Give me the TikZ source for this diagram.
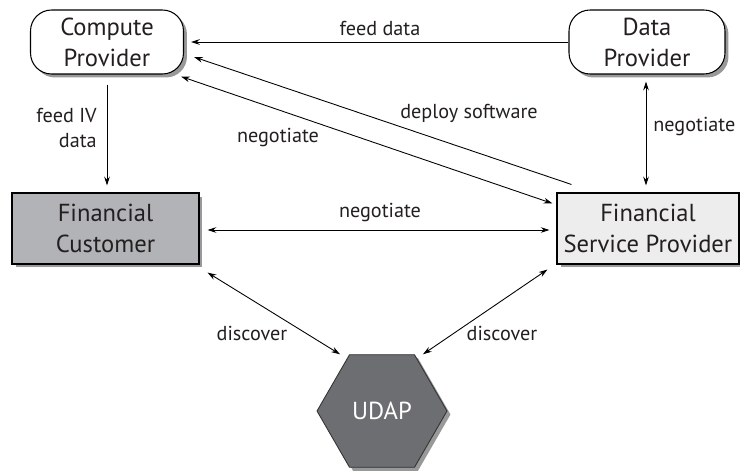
\documentclass[tikz,border=0pt]{standalone}
\usepackage{fontspec}
\setmainfont{PT Sans}
\usetikzlibrary{arrows.meta,shadows,shapes.geometric,calc}
\definecolor{txt}{HTML}{231F20}
\definecolor{fcgray}{HTML}{B1B3B6}
\definecolor{fspgray}{HTML}{EDEDED}
\definecolor{udapgray}{HTML}{6D6E71}
\tikzset{
  box/.style={draw=black, line width=0.6pt, align=center, text=txt, fill=white,
    inner sep=0pt, drop shadow={shadow xshift=0.07cm, shadow yshift=-0.07cm, opacity=0.4, fill=black}},
  rbox/.style={box, rounded corners=0.42cm},
  lbl/.style={font=\fontsize{11.5}{14.5}\selectfont, text=txt, inner sep=0pt},
  arr/.style={-{Stealth[length=5pt,width=3.2pt]}, line width=0.5pt},
  darr/.style={{Stealth[length=5pt,width=3.2pt]}-{Stealth[length=5pt,width=3.2pt]}, line width=0.5pt},
}
\begin{document}
\begin{tikzpicture}[x=0.02cm, y=-0.02cm, font=\fontsize{14}{17.6}\selectfont]
\useasboundingbox (0,0) rectangle (740,470);
\node[rbox, minimum width=3.06cm, minimum height=1.28cm] (cp) at (107,42) {Compute\\Provider};
\node[rbox, minimum width=3.12cm, minimum height=1.28cm] (dp) at (647,42) {Data\\Provider};
\node[box, fill=fcgray, minimum width=3.74cm, minimum height=1.42cm] (fc) at (105.5,228.5) {Financial\\Customer};
\node[box, fill=fspgray, minimum width=3.64cm, minimum height=1.42cm] (fsp) at (648,228.5) {Financial\\Service Provider};
\node[regular polygon, regular polygon sides=6, minimum size=2.6cm, inner sep=0pt,
  draw=black!80, line width=0.5pt, fill=udapgray, text=white,
  drop shadow={shadow xshift=0.07cm, shadow yshift=-0.07cm, opacity=0.4, fill=black}] (udap) at (382,411) {UDAP};

% connectors
\draw[arr] (dp.west) -- ($(cp.east)+(7,0)$);
\draw[arr] ($(fsp.north west)+(15,-8)$) -- ($(cp.east)+(10,15)$);
\draw[darr] ($(cp.south east)+(-3,2)$) -- ($(fsp.north west)+(-4,11)$);
\draw[arr] ($(cp.south)+(0,10)$) -- ($(cp.south|-fc.north)+(0,-7)$);
\draw[darr] ($(fc.east)+(8,1.5)$) -- ($(fsp.west)+(-7,1.5)$);
\draw[darr] ($(dp.south)+(-1,7)$) -- ($(dp.south|-fsp.north)+(-1,-7)$);
\draw[darr] ($(fc.south east)+(8,8)$) -- ($(udap.north)+(-42,0)$);
\draw[darr] ($(fsp.south west)+(-9,5)$) -- ($(udap.north)+(41,0)$);

% labels
\node[lbl] (l1) at (380,28) {feed data};
\node[lbl] (l2) at (469,113) {deploy software};
\node[lbl] (l3) at (278,137) {negotiate};
\node[lbl, align=right, anchor=east] (l4) at (97,128) {feed IV\\data};
\node[lbl] (l5) at (380,212) {negotiate};
\node[lbl, anchor=west] (l6) at (653,126) {negotiate};
\node[lbl] (l7) at (252,333) {discover};
\node[lbl] (l8) at (502,333) {discover};
\end{tikzpicture}
\end{document}
